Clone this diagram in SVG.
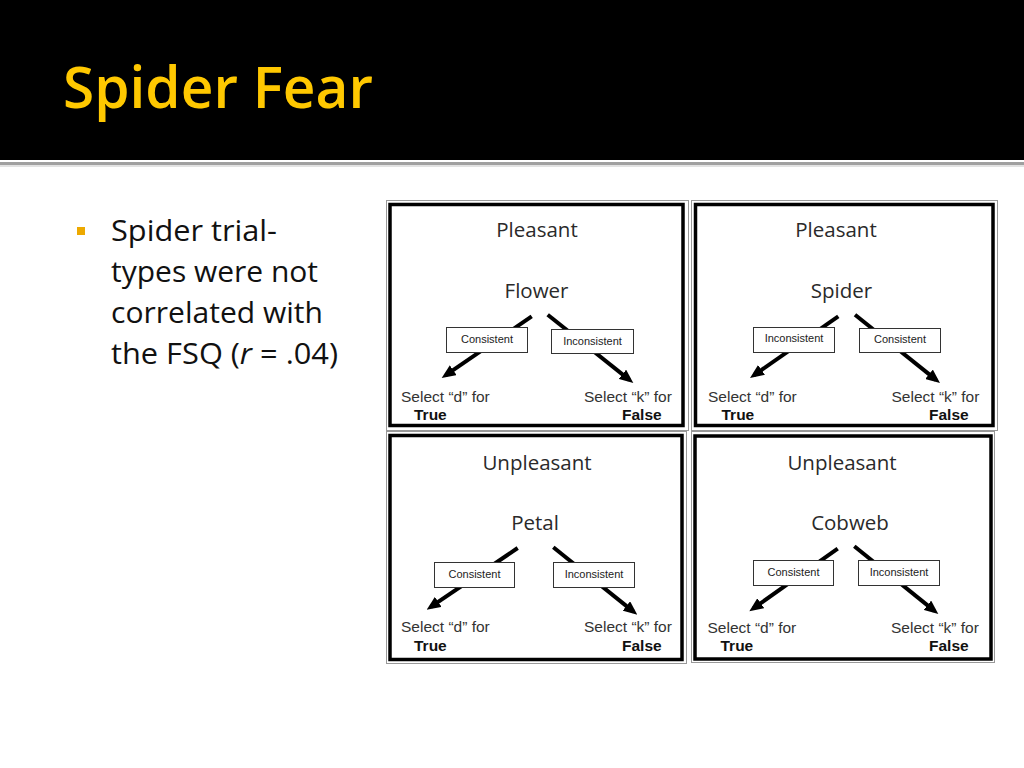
<svg xmlns="http://www.w3.org/2000/svg" width="1024" height="768" viewBox="0 0 1024 768">
<style>
.title{font-family:"Open Sans","Noto Sans",sans-serif;font-weight:600;fill:#FFC800;}
.body{font-family:"Open Sans","Noto Sans",sans-serif;font-size:29px;fill:#111;}
.ptxt{font-family:"Open Sans","Noto Sans",sans-serif;font-size:20.5px;fill:#2a2a2a;text-anchor:middle;}
.sel{font-family:"Liberation Sans",Arial,sans-serif;font-size:15.5px;fill:#333;}
.bold{font-family:"Liberation Sans",Arial,sans-serif;font-size:15.5px;font-weight:bold;fill:#111;}
.lbl{font-family:"Liberation Sans",Arial,sans-serif;font-size:11px;fill:#222;text-anchor:middle;}
.box{fill:#fff;stroke:#333;stroke-width:1;}
.outer{fill:#fff;stroke:#999;stroke-width:1;}
.frame{fill:none;stroke:#000;stroke-width:3.5;}
.arr{stroke:#000;stroke-width:4;fill:none;marker-end:url(#ah);}
</style>
<defs>
<marker id="ah" markerUnits="userSpaceOnUse" markerWidth="14" markerHeight="12" refX="9" refY="6" orient="auto">
<path d="M0,0 L14,6 L0,12 z" fill="#000"/>
</marker>
</defs>
<rect width="1024" height="768" fill="#fff"/>
<g id="header">
<rect x="0" y="0" width="1024" height="160" fill="#000"/>
<rect x="0" y="162" width="1024" height="3" fill="#a0a0a0"/>
<rect x="0" y="165" width="1024" height="2" fill="#e2e2e2"/>
<text class="title" x="63" y="108" font-size="58" textLength="310" lengthAdjust="spacingAndGlyphs">Spider Fear</text>
</g>
<g id="bullet">
<rect x="77" y="227" width="8" height="8" fill="#EDA900"/>
<text class="body" x="111" y="241" textLength="166" lengthAdjust="spacingAndGlyphs">Spider trial-</text>
<text class="body" x="111" y="282" textLength="207" lengthAdjust="spacingAndGlyphs">types were not</text>
<text class="body" x="111" y="323" textLength="212" lengthAdjust="spacingAndGlyphs">correlated with</text>
<text class="body" x="111" y="364" textLength="227" lengthAdjust="spacingAndGlyphs">the FSQ (<tspan font-style="italic">r</tspan> = .04)</text>
</g>
<g id="panel-tl">
<rect class="outer" x="386.5" y="200.5" width="302" height="230"/>
<rect class="frame" x="390" y="204.5" width="293" height="221"/>
<text class="ptxt" x="537" y="237">Pleasant</text>
<text class="ptxt" x="536.5" y="298">Flower</text>
<text class="sel" x="401" y="402">Select “d” for</text>
<text class="bold" x="414" y="420">True</text>
<text class="sel" x="584" y="402">Select “k” for</text>
<text class="bold" x="622" y="420">False</text>
</g>
<g id="panel-tr">
<rect class="outer" x="691.5" y="200.5" width="306" height="230"/>
<rect class="frame" x="695.5" y="204.5" width="297.5" height="221"/>
<text class="ptxt" x="836" y="237">Pleasant</text>
<text class="ptxt" x="841.5" y="298">Spider</text>
<text class="sel" x="708" y="402">Select “d” for</text>
<text class="bold" x="721.5" y="420">True</text>
<text class="sel" x="891.5" y="402">Select “k” for</text>
<text class="bold" x="929" y="420">False</text>
</g>
<g id="panel-bl">
<rect class="outer" x="386.5" y="431.5" width="300" height="232"/>
<rect class="frame" x="390" y="435.5" width="292" height="224"/>
<text class="ptxt" x="537" y="470">Unpleasant</text>
<text class="ptxt" x="535" y="530">Petal</text>
<text class="sel" x="401" y="632">Select “d” for</text>
<text class="bold" x="414" y="651">True</text>
<text class="sel" x="584" y="632">Select “k” for</text>
<text class="bold" x="622" y="651">False</text>
</g>
<g id="panel-br">
<rect class="outer" x="691.5" y="431.5" width="303" height="231"/>
<rect class="frame" x="695" y="436" width="296" height="223"/>
<text class="ptxt" x="842" y="470">Unpleasant</text>
<text class="ptxt" x="850" y="530">Cobweb</text>
<text class="sel" x="707.5" y="633">Select “d” for</text>
<text class="bold" x="720.5" y="651">True</text>
<text class="sel" x="891" y="633">Select “k” for</text>
<text class="bold" x="929" y="651">False</text>
</g>
<g id="connectors">
<line class="arr" x1="531.7" y1="316.3" x2="445.8" y2="375.2"/>
<line class="arr" x1="547.7" y1="314.7" x2="629.4" y2="379.9"/>
<line class="arr" x1="838.3" y1="316.3" x2="754.1" y2="375.1"/>
<line class="arr" x1="855" y1="314.7" x2="936.1" y2="379.9"/>
<line class="arr" x1="517.7" y1="548" x2="430.8" y2="606.9"/>
<line class="arr" x1="553.3" y1="547.3" x2="633.4" y2="611.6"/>
<line class="arr" x1="837.7" y1="548.7" x2="753.4" y2="608.4"/>
<line class="arr" x1="854.3" y1="546.3" x2="934.4" y2="610.9"/>
</g>
<g id="tl-consistent"><rect class="box" x="446.5" y="327.5" width="81" height="25"/><text class="lbl" x="487" y="343.3">Consistent</text></g>
<g id="tl-inconsistent"><rect class="box" x="551.5" y="329.5" width="82" height="24"/><text class="lbl" x="592.5" y="344.7">Inconsistent</text></g>
<g id="tr-inconsistent"><rect class="box" x="753.5" y="327.5" width="81" height="25"/><text class="lbl" x="794" y="342">Inconsistent</text></g>
<g id="tr-consistent"><rect class="box" x="859.5" y="328.5" width="81" height="24"/><text class="lbl" x="900" y="343.3">Consistent</text></g>
<g id="bl-consistent"><rect class="box" x="434.5" y="562.5" width="80" height="25"/><text class="lbl" x="474.5" y="578">Consistent</text></g>
<g id="bl-inconsistent"><rect class="box" x="553.5" y="562.5" width="81" height="25"/><text class="lbl" x="594" y="578">Inconsistent</text></g>
<g id="br-consistent"><rect class="box" x="753.5" y="560.5" width="80" height="25"/><text class="lbl" x="793.5" y="575.7">Consistent</text></g>
<g id="br-inconsistent"><rect class="box" x="858.5" y="560.5" width="81" height="25"/><text class="lbl" x="899" y="575.7">Inconsistent</text></g>
</svg>
